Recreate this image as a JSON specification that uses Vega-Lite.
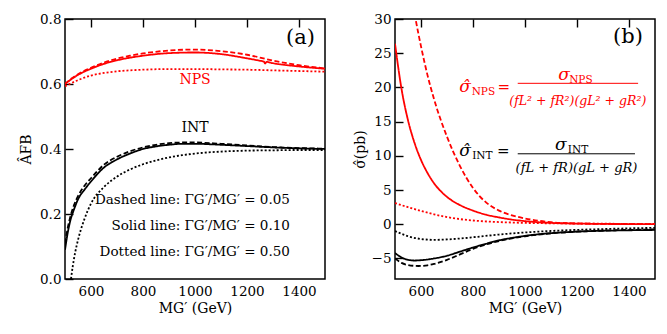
{
  "$schema": "https://vega.github.io/schema/vega-lite/v6.json",
  "padding": {"left": 18, "top": 11, "right": 5, "bottom": 5},
  "bounds": "flush",
  "spacing": 70,
  "config": {
    "view": {"stroke": "#000", "strokeWidth": 1.5, "fill": "transparent"},
    "style": {"cell": {"fill": "transparent", "stroke": "#000", "strokeWidth": 1.5}},
    "font": "DejaVu Serif",
    "axis": {"labelFont": "DejaVu Serif", "titleFont": "DejaVu Serif", "labelFontSize": 13.5, "titleFontSize": 14, "titleFontWeight": "normal", "labelColor": "#000", "titleColor": "#000", "domain": false, "ticks": false, "grid": true, "gridColor": "#000", "gridOpacity": 1, "gridWidth": 1.4, "gridDash": [8, 1000], "labelOverlap": false, "labelFlush": false, "zindex": 2},
    "text": {"font": "DejaVu Serif"}
  },
  "datasets": {
    "a": [
      {"s":"NPS","w":"0.10","M":500,"v":0.600},{"s":"NPS","w":"0.10","M":525,"v":0.615},{"s":"NPS","w":"0.10","M":550,"v":0.628},{"s":"NPS","w":"0.10","M":600,"v":0.647},{"s":"NPS","w":"0.10","M":650,"v":0.662},{"s":"NPS","w":"0.10","M":700,"v":0.673},{"s":"NPS","w":"0.10","M":750,"v":0.681},{"s":"NPS","w":"0.10","M":800,"v":0.687},{"s":"NPS","w":"0.10","M":900,"v":0.695},{"s":"NPS","w":"0.10","M":1000,"v":0.697},{"s":"NPS","w":"0.10","M":1100,"v":0.692},{"s":"NPS","w":"0.10","M":1200,"v":0.679},{"s":"NPS","w":"0.10","M":1250,"v":0.6715},{"s":"NPS","w":"0.10","M":1265,"v":0.669},{"s":"NPS","w":"0.10","M":1270,"v":0.663},{"s":"NPS","w":"0.10","M":1275,"v":0.668},{"s":"NPS","w":"0.10","M":1300,"v":0.664},{"s":"NPS","w":"0.10","M":1400,"v":0.654},{"s":"NPS","w":"0.10","M":1500,"v":0.647},
      {"s":"NPS","w":"0.05","M":500,"v":0.600},{"s":"NPS","w":"0.05","M":525,"v":0.617},{"s":"NPS","w":"0.05","M":550,"v":0.630},{"s":"NPS","w":"0.05","M":600,"v":0.650},{"s":"NPS","w":"0.05","M":650,"v":0.666},{"s":"NPS","w":"0.05","M":700,"v":0.678},{"s":"NPS","w":"0.05","M":750,"v":0.687},{"s":"NPS","w":"0.05","M":800,"v":0.694},{"s":"NPS","w":"0.05","M":900,"v":0.703},{"s":"NPS","w":"0.05","M":1000,"v":0.706},{"s":"NPS","w":"0.05","M":1100,"v":0.701},{"s":"NPS","w":"0.05","M":1200,"v":0.690},{"s":"NPS","w":"0.05","M":1300,"v":0.672},{"s":"NPS","w":"0.05","M":1400,"v":0.658},{"s":"NPS","w":"0.05","M":1500,"v":0.648},
      {"s":"NPS","w":"0.50","M":500,"v":0.593},{"s":"NPS","w":"0.50","M":525,"v":0.603},{"s":"NPS","w":"0.50","M":550,"v":0.612},{"s":"NPS","w":"0.50","M":600,"v":0.626},{"s":"NPS","w":"0.50","M":650,"v":0.634},{"s":"NPS","w":"0.50","M":700,"v":0.639},{"s":"NPS","w":"0.50","M":800,"v":0.644},{"s":"NPS","w":"0.50","M":900,"v":0.646},{"s":"NPS","w":"0.50","M":1000,"v":0.646},{"s":"NPS","w":"0.50","M":1100,"v":0.645},{"s":"NPS","w":"0.50","M":1200,"v":0.644},{"s":"NPS","w":"0.50","M":1300,"v":0.642},{"s":"NPS","w":"0.50","M":1400,"v":0.640},{"s":"NPS","w":"0.50","M":1500,"v":0.638},
      {"s":"INT","w":"0.10","M":500,"v":0.09},{"s":"INT","w":"0.10","M":510,"v":0.14},{"s":"INT","w":"0.10","M":520,"v":0.178},{"s":"INT","w":"0.10","M":535,"v":0.215},{"s":"INT","w":"0.10","M":550,"v":0.245},{"s":"INT","w":"0.10","M":575,"v":0.275},{"s":"INT","w":"0.10","M":600,"v":0.300},{"s":"INT","w":"0.10","M":650,"v":0.343},{"s":"INT","w":"0.10","M":700,"v":0.368},{"s":"INT","w":"0.10","M":750,"v":0.386},{"s":"INT","w":"0.10","M":800,"v":0.400},{"s":"INT","w":"0.10","M":850,"v":0.408},{"s":"INT","w":"0.10","M":900,"v":0.413},{"s":"INT","w":"0.10","M":950,"v":0.416},{"s":"INT","w":"0.10","M":1000,"v":0.416},{"s":"INT","w":"0.10","M":1100,"v":0.413},{"s":"INT","w":"0.10","M":1200,"v":0.409},{"s":"INT","w":"0.10","M":1300,"v":0.405},{"s":"INT","w":"0.10","M":1400,"v":0.402},{"s":"INT","w":"0.10","M":1500,"v":0.400},
      {"s":"INT","w":"0.05","M":500,"v":0.11},{"s":"INT","w":"0.05","M":510,"v":0.155},{"s":"INT","w":"0.05","M":520,"v":0.19},{"s":"INT","w":"0.05","M":535,"v":0.228},{"s":"INT","w":"0.05","M":550,"v":0.255},{"s":"INT","w":"0.05","M":575,"v":0.287},{"s":"INT","w":"0.05","M":600,"v":0.31},{"s":"INT","w":"0.05","M":650,"v":0.352},{"s":"INT","w":"0.05","M":700,"v":0.376},{"s":"INT","w":"0.05","M":750,"v":0.393},{"s":"INT","w":"0.05","M":800,"v":0.405},{"s":"INT","w":"0.05","M":850,"v":0.413},{"s":"INT","w":"0.05","M":900,"v":0.418},{"s":"INT","w":"0.05","M":950,"v":0.420},{"s":"INT","w":"0.05","M":1000,"v":0.420},{"s":"INT","w":"0.05","M":1100,"v":0.416},{"s":"INT","w":"0.05","M":1200,"v":0.411},{"s":"INT","w":"0.05","M":1300,"v":0.406},{"s":"INT","w":"0.05","M":1400,"v":0.403},{"s":"INT","w":"0.05","M":1500,"v":0.401},
      {"s":"INT","w":"0.50","M":523,"v":0.0},{"s":"INT","w":"0.50","M":530,"v":0.04},{"s":"INT","w":"0.50","M":540,"v":0.085},{"s":"INT","w":"0.50","M":550,"v":0.12},{"s":"INT","w":"0.50","M":575,"v":0.185},{"s":"INT","w":"0.50","M":600,"v":0.232},{"s":"INT","w":"0.50","M":650,"v":0.283},{"s":"INT","w":"0.50","M":700,"v":0.315},{"s":"INT","w":"0.50","M":750,"v":0.337},{"s":"INT","w":"0.50","M":800,"v":0.353},{"s":"INT","w":"0.50","M":850,"v":0.365},{"s":"INT","w":"0.50","M":900,"v":0.374},{"s":"INT","w":"0.50","M":950,"v":0.381},{"s":"INT","w":"0.50","M":1000,"v":0.386},{"s":"INT","w":"0.50","M":1100,"v":0.392},{"s":"INT","w":"0.50","M":1200,"v":0.395},{"s":"INT","w":"0.50","M":1300,"v":0.396},{"s":"INT","w":"0.50","M":1400,"v":0.397},{"s":"INT","w":"0.50","M":1500,"v":0.397}
    ],
    "b": [
      {"s":"NPS","w":"0.10","M":500,"v":26.4},{"s":"NPS","w":"0.10","M":525,"v":19.8},{"s":"NPS","w":"0.10","M":550,"v":15.2},{"s":"NPS","w":"0.10","M":575,"v":11.9},{"s":"NPS","w":"0.10","M":600,"v":9.4},{"s":"NPS","w":"0.10","M":625,"v":7.5},{"s":"NPS","w":"0.10","M":650,"v":6.0},{"s":"NPS","w":"0.10","M":700,"v":4.0},{"s":"NPS","w":"0.10","M":750,"v":2.8},{"s":"NPS","w":"0.10","M":800,"v":2.0},{"s":"NPS","w":"0.10","M":850,"v":1.4},{"s":"NPS","w":"0.10","M":900,"v":1.0},{"s":"NPS","w":"0.10","M":950,"v":0.68},{"s":"NPS","w":"0.10","M":1000,"v":0.46},{"s":"NPS","w":"0.10","M":1100,"v":0.2},{"s":"NPS","w":"0.10","M":1200,"v":0.1},{"s":"NPS","w":"0.10","M":1300,"v":0.05},{"s":"NPS","w":"0.10","M":1400,"v":0.03},{"s":"NPS","w":"0.10","M":1500,"v":0.02},
      {"s":"NPS","w":"0.05","M":560,"v":34},{"s":"NPS","w":"0.05","M":579,"v":30},{"s":"NPS","w":"0.05","M":600,"v":26},{"s":"NPS","w":"0.05","M":625,"v":21.8},{"s":"NPS","w":"0.05","M":650,"v":18.3},{"s":"NPS","w":"0.05","M":700,"v":12.8},{"s":"NPS","w":"0.05","M":750,"v":8.5},{"s":"NPS","w":"0.05","M":800,"v":5.3},{"s":"NPS","w":"0.05","M":850,"v":3.2},{"s":"NPS","w":"0.05","M":900,"v":2.0},{"s":"NPS","w":"0.05","M":950,"v":1.3},{"s":"NPS","w":"0.05","M":1000,"v":0.85},{"s":"NPS","w":"0.05","M":1100,"v":0.3},{"s":"NPS","w":"0.05","M":1200,"v":0.12},{"s":"NPS","w":"0.05","M":1300,"v":0.06},{"s":"NPS","w":"0.05","M":1400,"v":0.04},{"s":"NPS","w":"0.05","M":1500,"v":0.03},
      {"s":"NPS","w":"0.50","M":500,"v":3.1},{"s":"NPS","w":"0.50","M":550,"v":2.5},{"s":"NPS","w":"0.50","M":600,"v":1.95},{"s":"NPS","w":"0.50","M":650,"v":1.45},{"s":"NPS","w":"0.50","M":700,"v":1.05},{"s":"NPS","w":"0.50","M":750,"v":0.75},{"s":"NPS","w":"0.50","M":800,"v":0.55},{"s":"NPS","w":"0.50","M":900,"v":0.32},{"s":"NPS","w":"0.50","M":1000,"v":0.2},{"s":"NPS","w":"0.50","M":1100,"v":0.14},{"s":"NPS","w":"0.50","M":1200,"v":0.1},{"s":"NPS","w":"0.50","M":1300,"v":0.08},{"s":"NPS","w":"0.50","M":1400,"v":0.06},{"s":"NPS","w":"0.50","M":1500,"v":0.05},
      {"s":"INT","w":"0.10","M":500,"v":-4.2},{"s":"INT","w":"0.10","M":525,"v":-4.85},{"s":"INT","w":"0.10","M":550,"v":-5.2},{"s":"INT","w":"0.10","M":575,"v":-5.3},{"s":"INT","w":"0.10","M":600,"v":-5.25},{"s":"INT","w":"0.10","M":650,"v":-5.0},{"s":"INT","w":"0.10","M":700,"v":-4.6},{"s":"INT","w":"0.10","M":750,"v":-4.0},{"s":"INT","w":"0.10","M":800,"v":-3.4},{"s":"INT","w":"0.10","M":850,"v":-2.85},{"s":"INT","w":"0.10","M":900,"v":-2.35},{"s":"INT","w":"0.10","M":950,"v":-2.0},{"s":"INT","w":"0.10","M":1000,"v":-1.7},{"s":"INT","w":"0.10","M":1100,"v":-1.3},{"s":"INT","w":"0.10","M":1200,"v":-1.08},{"s":"INT","w":"0.10","M":1300,"v":-0.95},{"s":"INT","w":"0.10","M":1400,"v":-0.88},{"s":"INT","w":"0.10","M":1500,"v":-0.83},
      {"s":"INT","w":"0.05","M":500,"v":-5.0},{"s":"INT","w":"0.05","M":525,"v":-5.65},{"s":"INT","w":"0.05","M":550,"v":-5.95},{"s":"INT","w":"0.05","M":590,"v":-6.1},{"s":"INT","w":"0.05","M":625,"v":-6.0},{"s":"INT","w":"0.05","M":650,"v":-5.8},{"s":"INT","w":"0.05","M":700,"v":-5.2},{"s":"INT","w":"0.05","M":750,"v":-4.4},{"s":"INT","w":"0.05","M":800,"v":-3.6},{"s":"INT","w":"0.05","M":850,"v":-2.95},{"s":"INT","w":"0.05","M":900,"v":-2.45},{"s":"INT","w":"0.05","M":950,"v":-2.05},{"s":"INT","w":"0.05","M":1000,"v":-1.75},{"s":"INT","w":"0.05","M":1100,"v":-1.32},{"s":"INT","w":"0.05","M":1200,"v":-1.08},{"s":"INT","w":"0.05","M":1300,"v":-0.93},{"s":"INT","w":"0.05","M":1400,"v":-0.83},{"s":"INT","w":"0.05","M":1500,"v":-0.75},
      {"s":"INT","w":"0.50","M":500,"v":-1.0},{"s":"INT","w":"0.50","M":525,"v":-1.4},{"s":"INT","w":"0.50","M":550,"v":-1.75},{"s":"INT","w":"0.50","M":600,"v":-2.15},{"s":"INT","w":"0.50","M":650,"v":-2.28},{"s":"INT","w":"0.50","M":700,"v":-2.22},{"s":"INT","w":"0.50","M":750,"v":-2.08},{"s":"INT","w":"0.50","M":800,"v":-1.9},{"s":"INT","w":"0.50","M":900,"v":-1.5},{"s":"INT","w":"0.50","M":1000,"v":-1.2},{"s":"INT","w":"0.50","M":1100,"v":-0.98},{"s":"INT","w":"0.50","M":1200,"v":-0.82},{"s":"INT","w":"0.50","M":1300,"v":-0.7},{"s":"INT","w":"0.50","M":1400,"v":-0.6},{"s":"INT","w":"0.50","M":1500,"v":-0.52}
    ]
  },
  "hconcat": [
    {
      "width": 260, "height": 260,
      "resolve": {"axis": {"x": "independent", "y": "independent"}},
      "layer": [
        {
          "data": {"name": "a"},
          "mark": {"type": "line", "strokeWidth": 1.8, "clip": true, "interpolate": "monotone"},
          "encoding": {
            "x": {"field": "M", "type": "quantitative", "scale": {"domain": [500, 1500], "nice": false, "zero": false},
                  "axis": {"orient": "bottom", "values": [600, 800, 1000, 1200, 1400], "format": "d", "labelPadding": 5, "title": "MG′ (GeV)", "titlePadding": 4}},
            "y": {"field": "v", "type": "quantitative", "scale": {"domain": [0, 0.8], "nice": false, "zero": false},
                  "axis": {"orient": "left", "values": [0, 0.2, 0.4, 0.6, 0.8], "format": ".1f", "labelPadding": 4, "title": "ÂFB", "titlePadding": 6}},
            "color": {"field": "s", "type": "nominal", "scale": {"domain": ["NPS", "INT"], "range": ["#ff0000", "#000000"]}, "legend": null},
            "strokeDash": {"field": "w", "type": "nominal", "scale": {"domain": ["0.05", "0.10", "0.50"], "range": [[5, 2.5], [1, 0], [2, 2]]}, "legend": null}
          }
        },
        {
          "data": {"values": [{}]},
          "mark": {"type": "text", "fontSize": 21, "align": "center", "baseline": "middle", "color": "#000"},
          "encoding": {
            "x": {"datum": 1406, "type": "quantitative", "axis": {"orient": "top", "values": [600, 800, 1000, 1200, 1400], "labels": false, "title": null}},
            "y": {"datum": 0.743, "type": "quantitative", "axis": {"orient": "right", "values": [0, 0.2, 0.4, 0.6, 0.8], "labels": false, "title": null}},
            "text": {"value": "(a)"}
          }
        },
        {
          "data": {"values": [{}]},
          "mark": {"type": "text", "fontSize": 14, "align": "center", "baseline": "middle", "color": "#ff0000"},
          "encoding": {
            "x": {"datum": 1000, "type": "quantitative", "axis": {"orient": "bottom", "values": [520,560,640,680,720,760,840,880,920,960,1040,1080,1120,1160,1240,1280,1320,1360,1440,1480], "gridDash": [4.5, 1000], "labels": false, "title": null}},
            "y": {"datum": 0.613, "type": "quantitative", "axis": {"orient": "left", "values": [0.04,0.08,0.12,0.16,0.24,0.28,0.32,0.36,0.44,0.48,0.52,0.56,0.64,0.68,0.72,0.76], "gridDash": [4.5, 1000], "labels": false, "title": null}},
            "text": {"value": "NPS"}
          }
        },
        {
          "data": {"values": [{}]},
          "mark": {"type": "text", "fontSize": 14, "align": "center", "baseline": "middle", "color": "#000"},
          "encoding": {
            "x": {"datum": 1000, "type": "quantitative", "axis": {"orient": "top", "values": [520,560,640,680,720,760,840,880,920,960,1040,1080,1120,1160,1240,1280,1320,1360,1440,1480], "gridDash": [4.5, 1000], "labels": false, "title": null}},
            "y": {"datum": 0.466, "type": "quantitative", "axis": {"orient": "right", "values": [0.04,0.08,0.12,0.16,0.24,0.28,0.32,0.36,0.44,0.48,0.52,0.56,0.64,0.68,0.72,0.76], "gridDash": [4.5, 1000], "labels": false, "title": null}},
            "text": {"value": "INT"}
          }
        },
        {
          "data": {"values": [{}]},
          "mark": {"type": "text", "fontSize": 13.5, "align": "right", "baseline": "middle", "color": "#000"},
          "encoding": {"x": {"datum": 1365, "type": "quantitative", "axis": null}, "y": {"datum": 0.244, "type": "quantitative", "axis": null}, "text": {"value": "Dashed line: ΓG′/MG′ = 0.05"}}
        },
        {
          "data": {"values": [{}]},
          "mark": {"type": "text", "fontSize": 13.5, "align": "right", "baseline": "middle", "color": "#000"},
          "encoding": {"x": {"datum": 1365, "type": "quantitative", "axis": null}, "y": {"datum": 0.164, "type": "quantitative", "axis": null}, "text": {"value": "Solid line: ΓG′/MG′ = 0.10"}}
        },
        {
          "data": {"values": [{}]},
          "mark": {"type": "text", "fontSize": 13.5, "align": "right", "baseline": "middle", "color": "#000"},
          "encoding": {"x": {"datum": 1365, "type": "quantitative", "axis": null}, "y": {"datum": 0.084, "type": "quantitative", "axis": null}, "text": {"value": "Dotted line: ΓG′/MG′ = 0.50"}}
        }
      ]
    },
    {
      "width": 260, "height": 260,
      "resolve": {"axis": {"x": "independent", "y": "independent"}},
      "layer": [
        {
          "data": {"name": "b"},
          "mark": {"type": "line", "strokeWidth": 1.8, "clip": true, "interpolate": "monotone"},
          "encoding": {
            "x": {"field": "M", "type": "quantitative", "scale": {"domain": [500, 1500], "nice": false, "zero": false},
                  "axis": {"orient": "bottom", "values": [600, 800, 1000, 1200, 1400], "format": "d", "labelPadding": 5, "title": "MG′ (GeV)", "titlePadding": 4}},
            "y": {"field": "v", "type": "quantitative", "scale": {"domain": [-8, 30], "nice": false, "zero": false},
                  "axis": {"orient": "left", "values": [-5, 0, 5, 10, 15, 20, 25, 30], "format": "d", "labelPadding": 4, "title": "σ̂(pb)", "titlePadding": 4}},
            "color": {"field": "s", "type": "nominal", "scale": {"domain": ["NPS", "INT"], "range": ["#ff0000", "#000000"]}, "legend": null},
            "strokeDash": {"field": "w", "type": "nominal", "scale": {"domain": ["0.05", "0.10", "0.50"], "range": [[5, 2.5], [1, 0], [2, 2]]}, "legend": null}
          }
        },
        {
          "data": {"values": [{}]},
          "mark": {"type": "text", "fontSize": 21, "align": "center", "baseline": "middle", "color": "#000"},
          "encoding": {
            "x": {"datum": 1396, "type": "quantitative", "axis": {"orient": "top", "values": [600, 800, 1000, 1200, 1400], "labels": false, "title": null}},
            "y": {"datum": 27.3, "type": "quantitative", "axis": {"orient": "right", "values": [-5, 0, 5, 10, 15, 20, 25, 30], "labels": false, "title": null}},
            "text": {"value": "(b)"}
          }
        },
        {"data": {"values": [{}]}, "mark": {"type": "text", "fontSize": 17, "fontStyle": "italic", "align": "center", "baseline": "alphabetic", "color": "#ff0000"},
         "encoding": {
           "x": {"datum": 769, "type": "quantitative", "axis": {"orient": "bottom", "values": [520,560,640,680,720,760,840,880,920,960,1040,1080,1120,1160,1240,1280,1320,1360,1440,1480], "gridDash": [4.5, 1000], "labels": false, "title": null}},
           "y": {"datum": 19.4, "type": "quantitative", "axis": {"orient": "left", "values": [-8,-7,-6,-4,-3,-2,-1,1,2,3,4,6,7,8,9,11,12,13,14,16,17,18,19,21,22,23,24,26,27,28,29], "gridDash": [4.5, 1000], "labels": false, "title": null}},
           "text": {"value": "σ̂"}}},
        {"data": {"values": [{}]}, "mark": {"type": "text", "fontSize": 10.5, "align": "center", "baseline": "alphabetic", "color": "#ff0000"},
         "encoding": {
           "x": {"datum": 840, "type": "quantitative", "axis": {"orient": "top", "values": [520,560,640,680,720,760,840,880,920,960,1040,1080,1120,1160,1240,1280,1320,1360,1440,1480], "gridDash": [4.5, 1000], "labels": false, "title": null}},
           "y": {"datum": 18.95, "type": "quantitative", "axis": {"orient": "right", "values": [-8,-7,-6,-4,-3,-2,-1,1,2,3,4,6,7,8,9,11,12,13,14,16,17,18,19,21,22,23,24,26,27,28,29], "gridDash": [4.5, 1000], "labels": false, "title": null}},
           "text": {"value": "NPS"}}},
        {"data": {"values": [{}]}, "mark": {"type": "text", "fontSize": 15, "align": "center", "baseline": "alphabetic", "color": "#ff0000"},
         "encoding": {"x": {"datum": 918, "type": "quantitative", "axis": null}, "y": {"datum": 19.4, "type": "quantitative", "axis": null}, "text": {"value": "="}}},
        {"data": {"values": [{}]}, "mark": {"type": "text", "fontSize": 17, "fontStyle": "italic", "align": "center", "baseline": "alphabetic", "color": "#ff0000"},
         "encoding": {"x": {"datum": 1150, "type": "quantitative", "axis": null}, "y": {"datum": 21.1, "type": "quantitative", "axis": null}, "text": {"value": "σ"}}},
        {"data": {"values": [{}]}, "mark": {"type": "text", "fontSize": 10.5, "align": "center", "baseline": "alphabetic", "color": "#ff0000"},
         "encoding": {"x": {"datum": 1215, "type": "quantitative", "axis": null}, "y": {"datum": 20.65, "type": "quantitative", "axis": null}, "text": {"value": "NPS"}}},
        {"data": {"values": [{}]}, "mark": {"type": "rule", "strokeWidth": 1, "color": "#ff0000"},
         "encoding": {"x": {"datum": 972, "type": "quantitative", "axis": null}, "x2": {"datum": 1435}, "y": {"datum": 20.6, "type": "quantitative", "axis": null}}},
        {"data": {"values": [{}]}, "mark": {"type": "text", "fontSize": 12.5, "fontStyle": "italic", "align": "center", "baseline": "alphabetic", "color": "#ff0000"},
         "encoding": {"x": {"datum": 1203, "type": "quantitative", "axis": null}, "y": {"datum": 17.5, "type": "quantitative", "axis": null}, "text": {"value": "(fL² + fR²)(gL² + gR²)"}}},
        {"data": {"values": [{}]}, "mark": {"type": "text", "fontSize": 17, "fontStyle": "italic", "align": "center", "baseline": "alphabetic", "color": "#000"},
         "encoding": {"x": {"datum": 769, "type": "quantitative", "axis": null}, "y": {"datum": 9.95, "type": "quantitative", "axis": null}, "text": {"value": "σ̂"}}},
        {"data": {"values": [{}]}, "mark": {"type": "text", "fontSize": 10.5, "align": "center", "baseline": "alphabetic", "color": "#000"},
         "encoding": {"x": {"datum": 836, "type": "quantitative", "axis": null}, "y": {"datum": 9.5, "type": "quantitative", "axis": null}, "text": {"value": "INT"}}},
        {"data": {"values": [{}]}, "mark": {"type": "text", "fontSize": 15, "align": "center", "baseline": "alphabetic", "color": "#000"},
         "encoding": {"x": {"datum": 916, "type": "quantitative", "axis": null}, "y": {"datum": 9.95, "type": "quantitative", "axis": null}, "text": {"value": "="}}},
        {"data": {"values": [{}]}, "mark": {"type": "text", "fontSize": 17, "fontStyle": "italic", "align": "center", "baseline": "alphabetic", "color": "#000"},
         "encoding": {"x": {"datum": 1138, "type": "quantitative", "axis": null}, "y": {"datum": 10.9, "type": "quantitative", "axis": null}, "text": {"value": "σ"}}},
        {"data": {"values": [{}]}, "mark": {"type": "text", "fontSize": 10.5, "align": "center", "baseline": "alphabetic", "color": "#000"},
         "encoding": {"x": {"datum": 1204, "type": "quantitative", "axis": null}, "y": {"datum": 10.45, "type": "quantitative", "axis": null}, "text": {"value": "INT"}}},
        {"data": {"values": [{}]}, "mark": {"type": "rule", "strokeWidth": 1, "color": "#000"},
         "encoding": {"x": {"datum": 972, "type": "quantitative", "axis": null}, "x2": {"datum": 1423}, "y": {"datum": 10.3, "type": "quantitative", "axis": null}}},
        {"data": {"values": [{}]}, "mark": {"type": "text", "fontSize": 13, "fontStyle": "italic", "align": "center", "baseline": "alphabetic", "color": "#000"},
         "encoding": {"x": {"datum": 1198, "type": "quantitative", "axis": null}, "y": {"datum": 7.6, "type": "quantitative", "axis": null}, "text": {"value": "(fL + fR)(gL + gR)"}}}
      ]
    }
  ]
}
